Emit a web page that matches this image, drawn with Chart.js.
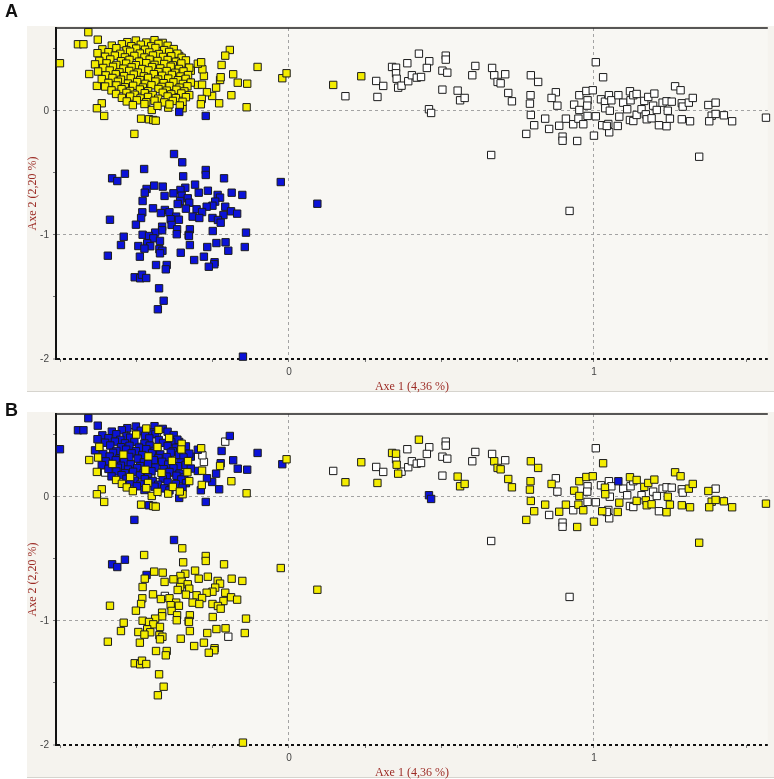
<!DOCTYPE html>
<html>
<head>
<meta charset="utf-8">
<script src="https://cdn.jsdelivr.net/npm/chart.js@4.4.1/dist/chart.umd.min.js"></script>
<style>
body { margin: 0; background: #fff; width: 774px; height: 779px; position: relative; overflow: hidden; }
canvas { position: absolute; left: 0; }
#panelA { top: 0; }
#panelB { top: 386px; }
.tag { position: absolute; left: 5px; font: bold 18px "Liberation Sans", Arial, sans-serif; color: #111; z-index: 2; }
</style>
</head>
<body>
<div class="tag" style="top:1px">A</div>
<canvas id="panelA" width="774" height="393"></canvas>
<canvas id="panelB" width="774" height="393"></canvas>
<div class="tag" style="top:400px">B</div>
<script>
// axis ranges and labels
const xMin = -0.764, xMax = 1.570
const yMin = -2, yMax = 0.669
const xTitle = 'Axe 1 (4,36 %)'
const yTitle = 'Axe 2 (2,20 %)'

// colours of the groups, key = code used in the point lists
const groupFill = { y: '#f3ec00', b: '#0b12d8', w: '#ffffff' }

// each point: [axe 1, axe 2, group in panel B]
// panel A group = the list the point is in

// yellow in A (upper left cloud)
const yellowA = [
  [0.145,0.210,'w'],[0.237,0.280,'y'],[-0.022,0.264,'b'],[-0.008,0.304,'y'],
  [-0.194,0.492,'b'],[-0.209,0.446,'w'],[-0.221,0.371,'b'],[-0.103,0.355,'b'],[-0.183,0.296,'b'],
  [-0.168,0.228,'b'],[-0.137,0.220,'b'],[-0.189,0.127,'y'],[-0.139,0.030,'y'],[-0.229,0.062,'b'],
  [-0.226,0.250,'y'],[-0.224,0.272,'b'],[-0.239,0.188,'b'],[-0.252,0.121,'b'],[-0.269,0.151,'b'],
  [-0.286,0.097,'y'],[-0.289,0.054,'b'],[-0.299,0.210,'b'],[-0.285,0.212,'y'],[-0.279,0.282,'w'],
  [-0.284,0.336,'w'],[-0.299,0.381,'b'],[-0.288,0.393,'y'],[-0.322,0.325,'b'],[-0.360,0.444,'b'],
  [-0.658,0.635,'b'],[-0.627,0.575,'b'],[-0.692,0.538,'b'],[-0.674,0.538,'b'],[-0.751,0.385,'b'],
  [-0.655,0.298,'y'],[-0.630,0.202,'y'],[-0.614,0.062,'y'],[-0.630,0.022,'y'],[-0.606,-0.040,'y'],
  [-0.507,-0.185,'b'],[-0.485,-0.062,'y'],[-0.459,-0.067,'b'],[-0.445,-0.073,'y'],[-0.437,-0.078,'y'],
  [-0.450,0.008,'y'],[-0.396,0.027,'y'],[-0.349,0.022,'y'],
  [-0.530,0.555,'b'],[-0.502,0.568,'b'],[-0.468,0.552,'y'],[-0.441,0.571,'b'],[-0.414,0.549,'b'],
  [-0.581,0.527,'b'],[-0.548,0.538,'b'],[-0.517,0.522,'w'],[-0.486,0.534,'b'],[-0.452,0.521,'b'],[-0.428,0.541,'y'],[-0.398,0.526,'b'],
  [-0.612,0.497,'b'],[-0.566,0.506,'b'],[-0.533,0.489,'b'],[-0.501,0.503,'y'],[-0.472,0.494,'b'],[-0.438,0.508,'b'],[-0.409,0.491,'w'],[-0.378,0.499,'b'],
  [-0.628,0.466,'b'],[-0.592,0.474,'b'],[-0.553,0.461,'b'],[-0.521,0.478,'b'],[-0.489,0.463,'w'],[-0.458,0.472,'b'],[-0.427,0.459,'b'],[-0.393,0.476,'y'],[-0.366,0.462,'b'],
  [-0.603,0.437,'b'],[-0.571,0.446,'b'],[-0.538,0.432,'b'],[-0.507,0.444,'b'],[-0.474,0.431,'b'],[-0.446,0.447,'w'],[-0.413,0.436,'b'],[-0.386,0.441,'b'],[-0.352,0.429,'y'],
  [-0.622,0.404,'y'],[-0.586,0.415,'b'],[-0.551,0.401,'b'],[-0.523,0.412,'b'],[-0.492,0.398,'b'],[-0.457,0.414,'b'],[-0.431,0.403,'y'],[-0.398,0.411,'b'],[-0.371,0.397,'b'],[-0.338,0.408,'b'],
  [-0.636,0.376,'b'],[-0.598,0.384,'w'],[-0.566,0.371,'b'],[-0.534,0.382,'b'],[-0.502,0.369,'b'],[-0.468,0.385,'b'],[-0.441,0.372,'b'],[-0.409,0.379,'w'],[-0.381,0.368,'b'],[-0.353,0.383,'y'],
  [-0.609,0.347,'b'],[-0.577,0.356,'b'],[-0.543,0.341,'y'],[-0.516,0.352,'b'],[-0.481,0.338,'b'],[-0.449,0.354,'b'],[-0.422,0.343,'b'],[-0.388,0.357,'b'],[-0.361,0.339,'b'],[-0.327,0.349,'b'],
  [-0.626,0.318,'y'],[-0.588,0.326,'b'],[-0.556,0.311,'b'],[-0.524,0.323,'b'],[-0.496,0.309,'b'],[-0.461,0.327,'y'],[-0.428,0.314,'b'],[-0.401,0.322,'b'],[-0.373,0.308,'w'],[-0.346,0.319,'b'],
  [-0.601,0.287,'b'],[-0.568,0.296,'b'],[-0.541,0.281,'b'],[-0.509,0.293,'w'],[-0.476,0.279,'b'],[-0.443,0.297,'b'],[-0.416,0.284,'b'],[-0.384,0.291,'y'],[-0.356,0.278,'b'],[-0.331,0.289,'y'],
  [-0.614,0.257,'b'],[-0.579,0.266,'y'],[-0.551,0.252,'b'],[-0.519,0.263,'b'],[-0.488,0.249,'b'],[-0.462,0.267,'b'],[-0.429,0.254,'w'],[-0.396,0.261,'b'],[-0.364,0.248,'b'],[-0.339,0.259,'b'],
  [-0.592,0.226,'b'],[-0.561,0.236,'b'],[-0.528,0.221,'b'],[-0.498,0.233,'b'],[-0.471,0.219,'y'],[-0.438,0.237,'b'],[-0.411,0.224,'b'],[-0.379,0.231,'b'],[-0.348,0.218,'w'],[-0.322,0.229,'b'],
  [-0.603,0.197,'w'],[-0.566,0.206,'b'],[-0.538,0.191,'b'],[-0.511,0.203,'b'],[-0.479,0.189,'b'],[-0.451,0.207,'b'],[-0.418,0.194,'y'],[-0.392,0.201,'b'],[-0.359,0.188,'b'],[-0.333,0.199,'y'],
  [-0.582,0.166,'b'],[-0.549,0.176,'b'],[-0.521,0.161,'y'],[-0.489,0.173,'b'],[-0.462,0.159,'b'],[-0.428,0.177,'w'],[-0.401,0.164,'b'],[-0.369,0.171,'b'],[-0.343,0.158,'b'],
  [-0.567,0.137,'y'],[-0.533,0.146,'b'],[-0.506,0.131,'b'],[-0.473,0.143,'b'],[-0.447,0.129,'b'],[-0.414,0.147,'b'],[-0.386,0.134,'w'],[-0.353,0.141,'b'],[-0.327,0.128,'y'],
  [-0.548,0.106,'y'],[-0.521,0.116,'b'],[-0.487,0.101,'b'],[-0.462,0.113,'y'],[-0.429,0.099,'b'],[-0.398,0.117,'b'],[-0.371,0.104,'b'],[-0.338,0.111,'b'],
  [-0.532,0.077,'y'],[-0.499,0.086,'b'],[-0.468,0.071,'y'],[-0.441,0.083,'b'],[-0.409,0.069,'b'],[-0.381,0.081,'y'],[-0.349,0.074,'b'],
  [-0.512,0.047,'y'],[-0.474,0.056,'b'],[-0.431,0.041,'y'],[-0.392,0.053,'b'],[-0.358,0.044,'y']
]

// blue in A (lower left cloud)
const blueA = [
  [-0.377,-0.347,'b'],[-0.350,-0.414,'y'],[-0.475,-0.468,'y'],[-0.538,-0.506,'b'],[-0.580,-0.543,'b'],[-0.563,-0.565,'b'],
  [-0.273,-0.476,'y'],[-0.273,-0.516,'y'],[-0.347,-0.527,'y'],[-0.213,-0.543,'y'],[-0.027,-0.573,'y'],[-0.308,-0.594,'y'],
  [-0.442,-0.602,'y'],[-0.414,-0.610,'y'],[-0.467,-0.629,'b'],[-0.340,-0.619,'y'],[-0.356,-0.637,'y'],[-0.266,-0.643,'y'],
  [-0.473,-0.659,'y'],[-0.379,-0.664,'y'],[-0.296,-0.659,'y'],[-0.188,-0.659,'y'],[-0.153,-0.677,'y'],[-0.408,-0.685,'y'],
  [-0.352,-0.683,'y'],[-0.234,-0.677,'y'],[-0.226,-0.699,'y'],[-0.332,-0.704,'y'],[-0.480,-0.726,'y'],[-0.357,-0.726,'y'],
  [-0.327,-0.740,'y'],[-0.242,-0.731,'y'],[-0.365,-0.750,'y'],[-0.251,-0.764,'y'],[-0.270,-0.772,'y'],[-0.209,-0.772,'y'],
  [-0.338,-0.788,'y'],[-0.446,-0.785,'y'],[-0.303,-0.793,'y'],[-0.407,-0.798,'w'],[-0.420,-0.823,'y'],[-0.392,-0.817,'y'],
  [-0.285,-0.815,'y'],[-0.190,-0.809,'y'],[-0.170,-0.828,'y'],[-0.481,-0.817,'y'],[-0.215,-0.839,'y'],[-0.316,-0.852,'y'],
  [-0.294,-0.863,'y'],[-0.370,-0.852,'y'],[-0.388,-0.873,'y'],[-0.361,-0.877,'y'],[-0.251,-0.863,'y'],[-0.233,-0.879,'y'],
  [-0.224,-0.901,'y'],[-0.587,-0.877,'y'],[-0.485,-0.863,'y'],[-0.502,-0.917,'y'],[-0.385,-0.919,'y'],[-0.416,-0.933,'y'],
  [-0.416,-0.962,'y'],[-0.325,-0.954,'y'],[-0.250,-0.968,'y'],[-0.367,-0.954,'y'],[-0.439,-0.981,'y'],[-0.141,-0.981,'y'],
  [-0.480,-0.998,'y'],[-0.459,-1.008,'y'],[-0.368,-0.994,'y'],[-0.329,-1.000,'y'],[-0.542,-1.014,'y'],[-0.445,-1.027,'y'],
  [-0.423,-1.048,'y'],[-0.465,-1.067,'y'],[-0.328,-1.008,'y'],[-0.238,-1.065,'y'],[-0.208,-1.059,'y'],[-0.551,-1.081,'y'],
  [-0.494,-1.089,'y'],[-0.455,-1.091,'y'],[-0.474,-1.110,'y'],[-0.325,-1.081,'y'],[-0.268,-1.097,'y'],[-0.145,-1.097,'y'],
  [-0.425,-1.115,'y'],[-0.415,-1.127,'y'],[-0.199,-1.127,'w'],[-0.423,-1.148,'y'],[-0.355,-1.143,'y'],[-0.594,-1.167,'y'],
  [-0.489,-1.175,'y'],[-0.279,-1.175,'y'],[-0.311,-1.202,'y'],[-0.244,-1.220,'y'],[-0.245,-1.236,'y'],[-0.263,-1.256,'y'],
  [-0.436,-1.242,'y'],[-0.401,-1.242,'y'],[-0.404,-1.277,'y'],[-0.506,-1.341,'y'],[-0.488,-1.349,'y'],[-0.482,-1.320,'y'],
  [-0.468,-1.347,'y'],[-0.426,-1.430,'y'],[-0.411,-1.530,'y'],[-0.430,-1.599,'y'],[-0.151,-1.981,'y'],[0.093,-0.748,'y'],
  [-0.360,-0.008,'b'],[-0.273,-0.040,'b']
]

// white in A (right band)
const whiteA = [
  [0.185,0.119,'y'],[0.290,0.113,'y'],[0.286,0.242,'w'],[0.309,0.202,'w'],[0.338,0.355,'y'],[0.351,0.349,'y'],
  [0.351,0.304,'w'],[0.353,0.260,'y'],[0.358,0.188,'y'],[0.369,0.204,'w'],[0.391,0.240,'w'],[0.403,0.288,'w'],
  [0.419,0.269,'w'],[0.433,0.274,'w'],[0.388,0.385,'w'],[0.426,0.462,'y'],[0.460,0.401,'w'],[0.452,0.347,'w'],
  [0.514,0.446,'w'],[0.514,0.414,'w'],[0.503,0.325,'w'],[0.519,0.309,'w'],[0.503,0.172,'w'],[0.459,0.014,'b'],
  [0.466,-0.016,'b'],[0.553,0.164,'y'],[0.561,0.086,'y'],[0.576,0.105,'y'],[0.611,0.363,'w'],[0.601,0.288,'w'],
  [0.666,0.347,'w'],[0.673,0.288,'y'],[0.684,0.234,'y'],[0.694,0.223,'y'],[0.709,0.296,'w'],[0.719,0.145,'y'],
  [0.731,0.078,'y'],[0.793,0.288,'y'],[0.817,0.234,'y'],[0.792,0.127,'y'],[0.790,0.059,'y'],[0.793,-0.032,'y'],
  [0.804,-0.115,'y'],[0.778,-0.185,'y'],[0.840,-0.062,'y'],[0.853,-0.145,'w'],[0.875,0.151,'w'],[0.861,0.105,'y'],
  [0.880,0.043,'w'],[0.886,-0.119,'y'],[0.908,-0.062,'y'],[0.897,-0.207,'w'],[0.897,-0.240,'w'],[0.932,-0.107,'w'],
  [0.935,0.051,'y'],[0.945,-0.242,'y'],[0.949,-0.062,'y'],[0.952,0.008,'y'],[0.965,-0.107,'y'],[0.952,0.127,'y'],
  [0.975,0.161,'y'],[0.996,0.167,'y'],[0.979,0.086,'w'],[0.978,0.043,'w'],[0.979,-0.040,'w'],[1.006,-0.043,'w'],
  [1.000,-0.199,'y'],[1.006,0.393,'w'],[1.030,0.272,'y'],[1.023,0.094,'w'],[1.036,0.075,'y'],[1.037,0.022,'y'],
  [1.027,-0.115,'y'],[1.049,0.127,'w'],[1.057,0.086,'w'],[1.052,0.002,'w'],[1.047,-0.105,'w'],[1.050,-0.172,'w'],
  [1.042,-0.121,'w'],[1.080,0.127,'b'],[1.083,-0.046,'y'],[1.078,-0.121,'y'],[1.096,0.067,'w'],[1.109,0.014,'w'],
  [1.118,0.159,'y'],[1.120,0.086,'w'],[1.129,0.127,'w'],[1.140,0.137,'y'],[1.118,-0.073,'w'],[1.129,-0.081,'w'],
  [1.140,-0.032,'y'],[1.156,0.014,'w'],[1.165,0.081,'y'],[1.178,0.113,'y'],[1.198,0.140,'y'],[1.170,-0.027,'y'],
  [1.173,-0.067,'y'],[1.189,-0.059,'y'],[1.194,0.043,'w'],[1.206,0.008,'w'],[1.213,-0.115,'w'],[1.238,-0.123,'y'],
  [1.225,0.067,'w'],[1.238,0.078,'w'],[1.255,0.075,'w'],[1.242,0.002,'y'],[1.249,-0.062,'y'],[1.266,0.199,'y'],
  [1.284,0.167,'y'],[1.288,0.062,'w'],[1.291,0.035,'w'],[1.288,-0.067,'y'],[1.315,-0.083,'y'],[1.311,0.067,'y'],
  [1.324,0.105,'y'],[1.345,-0.369,'y'],[1.375,0.048,'y'],[1.399,0.067,'w'],[1.386,-0.038,'y'],[1.399,-0.024,'y'],
  [1.378,-0.083,'y'],[1.426,-0.035,'y'],[1.453,-0.083,'y'],[1.564,-0.054,'y'],[0.663,-0.355,'w'],[0.920,-0.806,'w']
]

const tickFont = { family: '"Liberation Sans", Arial, sans-serif', size: 10 }
const titleFont = { family: '"Liberation Serif", "Times New Roman", serif', size: 12, lineHeight: 1.1 }
const titleColor = '#9c2b25'

const whole = v => Math.abs(v - Math.round(v)) < 1e-6

// light panel and plot backgrounds + top frame line
const panelFrame = {
  id: 'panelFrame',
  beforeDraw(chart) {
    const { ctx, chartArea: a } = chart
    ctx.save()
    ctx.fillStyle = '#f5f3ee'
    ctx.fillRect(27, 26, chart.width - 27, 366)
    ctx.fillStyle = '#d6d4ce'
    ctx.fillRect(27, 391, chart.width - 27, 1)
    ctx.fillStyle = '#f8f7f3'
    ctx.fillRect(a.left, a.top, a.right - a.left, a.bottom - a.top)
    ctx.restore()
  },
  afterDraw(chart) {
    const { ctx, chartArea: a } = chart
    ctx.save()
    ctx.strokeStyle = '#222'
    ctx.lineWidth = 1.5
    ctx.beginPath()
    ctx.moveTo(a.left, a.top)
    ctx.lineTo(a.right, a.top)
    ctx.stroke()
    ctx.restore()
  }
}

function makeSet(points, code) {
  return {
    data: points.map(p => ({ x: p[0], y: p[1] })),
    pointStyle: 'rect',
    pointRadius: 5.2,
    pointHoverRadius: 5.2,
    backgroundColor: groupFill[code],
    borderColor: '#1c1c1c',
    borderWidth: 1,
    clip: false
  }
}

function buildPanel(id, datasets) {
  new Chart(document.getElementById(id), {
    type: 'scatter',
    data: { datasets: datasets },
    plugins: [panelFrame],
    options: {
      responsive: false,
      animation: false,
      devicePixelRatio: 1,
      layout: { padding: { top: 28, right: 6, left: 0, bottom: 0 } },
      plugins: { legend: { display: false }, tooltip: { enabled: false } },
      scales: {
        x: {
          type: 'linear', min: xMin, max: xMax,
          afterFit: s => { s.height = 34 },
          ticks: {
            stepSize: 0.25, includeBounds: false, autoSkip: false, maxRotation: 0,
            padding: 4, color: '#444', font: tickFont,
            callback: v => whole(v) ? String(Math.round(v)) : ''
          },
          grid: {
            color: c => whole(c.tick.value) ? '#a3a3a3' : 'rgba(0,0,0,0)',
            tickColor: '#777', tickLength: 3, lineWidth: 1
          },
          border: { display: false, dash: [3, 3] },
          title: { display: true, text: xTitle, color: titleColor, font: titleFont, padding: { top: 0, bottom: 0 } }
        },
        y: {
          type: 'linear', min: yMin, max: yMax,
          afterFit: s => { s.width = 56 },
          ticks: {
            stepSize: 0.5, includeBounds: false, autoSkip: false,
            padding: 4, color: '#444', font: tickFont,
            callback: v => whole(v) ? String(Math.round(v)) : ''
          },
          grid: {
            color: c => c.tick.value === yMin ? '#111' : (whole(c.tick.value) ? '#a3a3a3' : 'rgba(0,0,0,0)'),
            lineWidth: c => c.tick.value === yMin ? 2 : 1,
            tickColor: '#777', tickLength: 3, tickWidth: 1
          },
          border: { display: true, color: '#111', width: 2, dash: [3, 3] },
          title: { display: true, text: yTitle, color: titleColor, font: titleFont, padding: { top: 26, bottom: 0 } }
        }
      }
    }
  })
}

// panel A: groups as the three clouds
buildPanel('panelA', [
  makeSet(whiteA, 'w'),
  makeSet(blueA, 'b'),
  makeSet(yellowA, 'y')
])

// panel B: same points, other grouping
const allPoints = yellowA.concat(blueA, whiteA)
buildPanel('panelB', ['y', 'b', 'w'].map(code =>
  makeSet(allPoints.filter(p => p[2] === code), code)
))
</script>
</body>
</html>
